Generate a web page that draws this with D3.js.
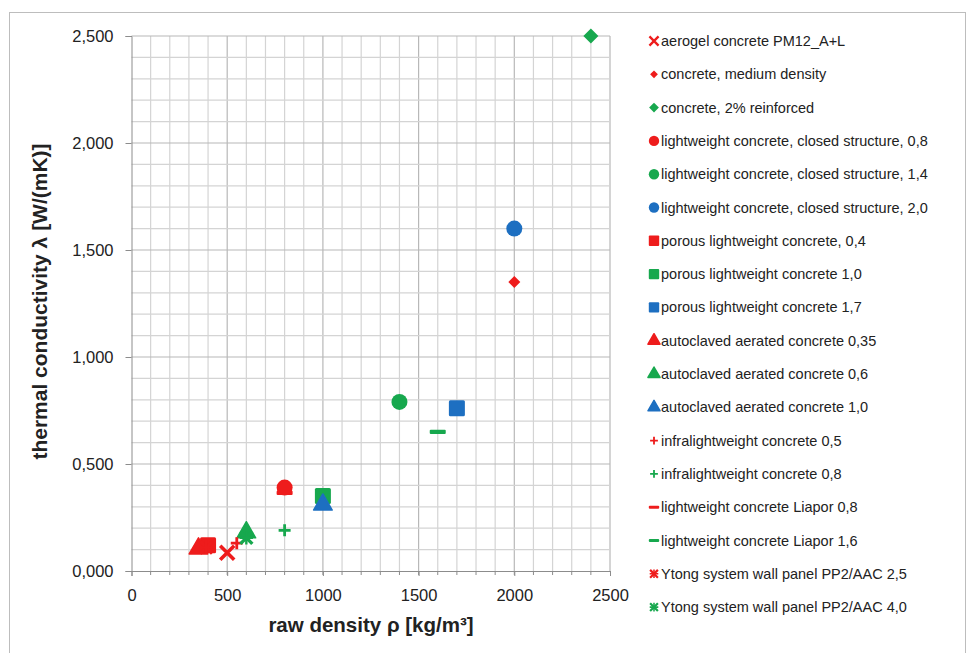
<!DOCTYPE html>
<html>
<head>
<meta charset="utf-8">
<script src="https://cdn.jsdelivr.net/npm/d3@7"></script>
<style>
  body { margin: 0; background: #fff; }
  text { font-family: "Liberation Sans", Arial, sans-serif; fill: #222; }
</style>
</head>
<body>
<div id="container"></div>
<script>
// series (legend order)
var seriesNames = [
  "aerogel concrete PM12_A+L",
  "concrete, medium density",
  "concrete, 2% reinforced",
  "lightweight concrete, closed structure, 0,8",
  "lightweight concrete, closed structure, 1,4",
  "lightweight concrete, closed structure, 2,0",
  "porous lightweight concrete, 0,4",
  "porous lightweight concrete 1,0",
  "porous lightweight concrete 1,7",
  "autoclaved aerated concrete 0,35",
  "autoclaved aerated concrete 0,6",
  "autoclaved aerated concrete 1,0",
  "infralightweight concrete 0,5",
  "infralightweight concrete 0,8",
  "lightweight concrete Liapor 0,8",
  "lightweight concrete Liapor 1,6",
  "Ytong system wall panel PP2/AAC 2,5",
  "Ytong system wall panel PP2/AAC 4,0"
];
var seriesShape = ["x","diamondS","diamond","circle","circle","circle","square","square","square",
  "triangle","triangle","triangle","plus","plus","dash","dash","star","star"];
var seriesColor = ["red","red","green","red","green","blue","red","green","blue",
  "red","green","blue","red","green","red","green","red","green"];
// raw density [kg/m3]
var density = [500, 2000, 2400, 800, 1400, 2000, 400, 1000, 1700, 350, 600, 1000, 550, 800, 800, 1600, 390, 600];
// thermal conductivity [W/(mK)]
var conductivity = [0.085, 1.35, 2.5, 0.39, 0.79, 1.6, 0.12, 0.35, 0.76, 0.105, 0.18, 0.31, 0.13, 0.19, 0.365, 0.65, 0.11, 0.155];

var xTicks = [0, 500, 1000, 1500, 2000, 2500];
var yTicks = [0, 0.5, 1.0, 1.5, 2.0, 2.5];

var colors = { red: "#ee1c1c", green: "#17a84e", blue: "#1d6fc1" };

var width = 968, height = 653;
var margin = {top: 36, left: 131.5};
var w = 478.5, h = 535;

var svg = d3.select("#container").append("svg")
    .attr("width", width).attr("height", height);

// chart border
svg.append("rect")
    .attr("x", 9.5).attr("y", 12.5)
    .attr("width", 956).attr("height", 660)
    .attr("fill", "none").attr("stroke", "#bdbdbd");

var x = d3.scaleLinear().domain([0, 2500]).range([0, w]);
var y = d3.scaleLinear().domain([0, 2.5]).range([h, 0]);

var g = svg.append("g").attr("transform", "translate(" + margin.left + "," + margin.top + ")");

// grid
g.append("g").selectAll("line")
    .data(d3.range(100, 2501, 100))
    .enter().append("line")
    .attr("x1", d => x(d)).attr("x2", d => x(d))
    .attr("y1", 0).attr("y2", h)
    .attr("stroke", d => d % 500 === 0 ? "#b8b8b8" : "#d4d4d4")
    .attr("stroke-width", 1.2);

g.append("g").selectAll("line")
    .data(d3.range(1, 26).map(i => i / 10))
    .enter().append("line")
    .attr("x1", 0).attr("x2", w)
    .attr("y1", d => y(d)).attr("y2", d => y(d))
    .attr("stroke", d => Math.abs(d * 2 - Math.round(d * 2)) < 1e-6 ? "#b8b8b8" : "#d4d4d4")
    .attr("stroke-width", 1.2);

// axes
var fmtY = d => d3.format(".3f")(d).replace(".", ",");
var yAxis = d3.axisLeft(y).tickValues(yTicks).tickFormat(fmtY).tickSize(6).tickPadding(12);
var xAxis = d3.axisBottom(x).tickValues(xTicks).tickFormat(d3.format("d")).tickSize(5).tickPadding(13);

var ya = g.append("g").call(yAxis);
var xa = g.append("g").attr("transform", "translate(0," + h + ")").call(xAxis);
[ya, xa].forEach(function(a) {
  a.select(".domain").attr("stroke", "#8c8c8c");
  a.selectAll(".tick line").attr("stroke", "#8c8c8c");
  a.selectAll(".tick text").style("font-size", "16.5px").attr("fill", "#222");
});
// minor x ticks
g.append("g").selectAll("line")
    .data(d3.range(100, 2500, 100))
    .enter().append("line")
    .attr("x1", d => x(d)).attr("x2", d => x(d))
    .attr("y1", h).attr("y2", h + 4)
    .attr("stroke", "#8c8c8c");

// axis titles
svg.append("text")
    .attr("transform", "translate(47," + (margin.top + h / 2 - 2) + ") rotate(-90)")
    .attr("text-anchor", "middle")
    .style("font-size", "21px").style("font-weight", "bold")
    .text("thermal conductivity λ [W/(mK)]");
svg.append("text")
    .attr("x", 371).attr("y", 632)
    .attr("text-anchor", "middle")
    .style("font-size", "20.5px").style("font-weight", "bold")
    .text("raw density ρ [kg/m³]");

// marker drawing
function drawMarker(sel, shape, col, s) {
  var c = colors[col];
  if (shape === "circle") {
    sel.append("circle").attr("r", 8 * s).attr("fill", c);
  } else if (shape === "square") {
    sel.append("rect").attr("x", -8 * s).attr("y", -8 * s).attr("width", 16 * s).attr("height", 16 * s)
      .attr("rx", 1.5 * s).attr("fill", c);
  } else if (shape === "triangle") {
    sel.append("path").attr("d", d3.symbol(d3.symbolTriangle, 150 * s * s)).attr("fill", c)
      .attr("stroke", c).attr("stroke-linejoin", "round").attr("stroke-width", 1.5);
  } else if (shape === "diamond" || shape === "diamondS") {
    var r = (shape === "diamond" ? 7.5 : 6) * s;
    sel.append("path").attr("d", "M0," + (-r) + "L" + r + ",0L0," + r + "L" + (-r) + ",0Z").attr("fill", c);
  } else if (shape === "x") {
    var r2 = 7 * s;
    sel.append("path").attr("d", "M" + (-r2) + "," + (-r2) + "L" + r2 + "," + r2 + "M" + r2 + "," + (-r2) + "L" + (-r2) + "," + r2)
      .attr("stroke", c).attr("stroke-width", 3.6 * s).attr("fill", "none");
  } else if (shape === "plus") {
    var r3 = 6 * s;
    sel.append("path").attr("d", "M" + (-r3) + ",0L" + r3 + ",0M0," + (-r3) + "L0," + r3)
      .attr("stroke", c).attr("stroke-width", 2.8 * s).attr("fill", "none");
  } else if (shape === "dash") {
    sel.append("rect").attr("x", -8 * s).attr("y", -2.2 * s).attr("width", 16 * s).attr("height", 4.4 * s)
      .attr("rx", 1).attr("fill", c);
  } else if (shape === "star") {
    var r4 = 6 * s;
    sel.append("path").attr("d", "M" + (-r4) + "," + (-r4) + "L" + r4 + "," + r4 + "M" + r4 + "," + (-r4) + "L" + (-r4) + "," + r4)
      .attr("stroke", c).attr("stroke-width", 3.4 * s).attr("fill", "none");
    sel.append("path").attr("d", "M" + (-r4 * 1.1) + ",0L" + (r4 * 1.1) + ",0M0," + (-r4 * 1.1) + "L0," + (r4 * 1.1))
      .attr("stroke", c).attr("stroke-width", 2.4 * s).attr("fill", "none");
  }
}

// points
var idx = d3.range(seriesNames.length);
idx.forEach(function(i) {
  var m = g.append("g").attr("transform", "translate(" + x(density[i]) + "," + y(conductivity[i]) + ")");
  drawMarker(m, seriesShape[i], seriesColor[i], 1);
});

// legend
var legend = svg.append("g").attr("transform", "translate(654,41)");
idx.forEach(function(i) {
  var row = legend.append("g").attr("transform", "translate(0," + (i * 33.3) + ")");
  drawMarker(row.append("g"), seriesShape[i], seriesColor[i], 0.65);
  row.append("text").attr("x", 7).attr("y", 5)
    .style("font-size", "14.5px")
    .text(seriesNames[i]);
});
</script>
</body>
</html>
